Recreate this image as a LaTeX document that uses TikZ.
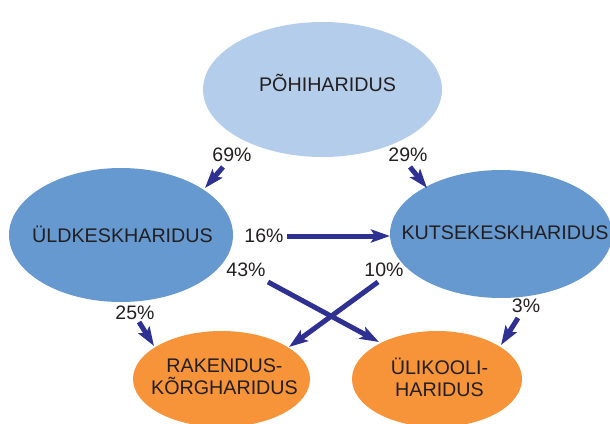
\documentclass[tikz,border=0pt]{standalone}
\usepackage{fontspec}
\setmainfont{Liberation Sans}
\usetikzlibrary{shapes.geometric,arrows.meta}
\definecolor{lblue}{HTML}{B4CDEA}
\definecolor{mblue}{HTML}{6699D0}
\definecolor{orng}{HTML}{F7943A}
\definecolor{arr}{HTML}{2E3192}
\definecolor{txt}{HTML}{231F20}
\tikzset{
  ell/.style={ellipse, inner sep=0pt, outer sep=0pt},
  lbl/.style={inner sep=0pt, text=txt, font=\fontsize{19.7}{22}\selectfont, align=center},
  pct/.style={inner sep=0pt, text=txt, font=\fontsize{19.5}{23}\selectfont},
  flow/.style={draw=arr, line width=5pt, -{Stealth[length=19pt,width=13pt,inset=4pt]}}
}
\begin{document}
\begin{tikzpicture}[x=1pt,y=-1pt]
\useasboundingbox (0,0) rectangle (610,423);
\begin{scope}
\clip (0,0) rectangle (610,423);
\node[ell, fill=lblue, minimum width=239pt, minimum height=135pt] (poh) at (322.5,89.5) {};
\node[ell, fill=mblue, minimum width=224pt, minimum height=134pt] (yld) at (121,235) {};
\node[ell, fill=mblue, minimum width=222pt, minimum height=128pt] (kut) at (501,234) {};
\node[ell, fill=orng, minimum width=177pt, minimum height=96pt] (rak) at (221.5,379) {};
\node[ell, fill=orng, minimum width=170pt, minimum height=96pt] (uli) at (437,379) {};
\end{scope}
\node[lbl] (poht) at (327.5,83) {PÕHIHARIDUS};
\node[lbl] (yldt) at (122.5,234) {ÜLDKESKHARIDUS};
\node[lbl] (kutt) at (505,233) {KUTSEKESKHARIDUS};
\node[lbl] (rakt) at (224.5,377) {RAKENDUS-\\KÕRGHARIDUS};
\node[lbl] (ulit) at (439.5,377) {ÜLIKOOLI-\\HARIDUS};
% labels
\node[pct] (p69) at (232,155) {69\%};
\node[pct] (p29) at (408,155) {29\%};
\node[pct] (p16) at (264,236) {16\%};
\node[pct] (p43) at (246,270) {43\%};
\node[pct] (p10) at (384,270) {10\%};
\node[pct] (p25) at (135,313) {25\%};
\node[pct] (p3) at (526,306) {3\%};
% arrow end points
\coordinate (a1s) at (223,167); \coordinate (a1e) at (205,188);
\coordinate (a2s) at (410,167); \coordinate (a2e) at (427,188);
\coordinate (a3s) at (287,236); \coordinate (a3e) at (390,236);
\coordinate (a4s) at (268,282); \coordinate (a4e) at (379,342);
\coordinate (a5s) at (378,282); \coordinate (a5e) at (289,347);
\coordinate (a6s) at (139,322); \coordinate (a6e) at (154,346);
\coordinate (a7s) at (518,318); \coordinate (a7e) at (501,345);
\draw[flow] (a1s) -- (a1e);
\draw[flow] (a2s) -- (a2e);
\draw[flow] (a3s) -- (a3e);
\draw[flow] (a4s) -- (a4e);
\draw[flow] (a5s) -- (a5e);
\draw[flow] (a6s) -- (a6e);
\draw[flow] (a7s) -- (a7e);
\end{tikzpicture}
\end{document}
